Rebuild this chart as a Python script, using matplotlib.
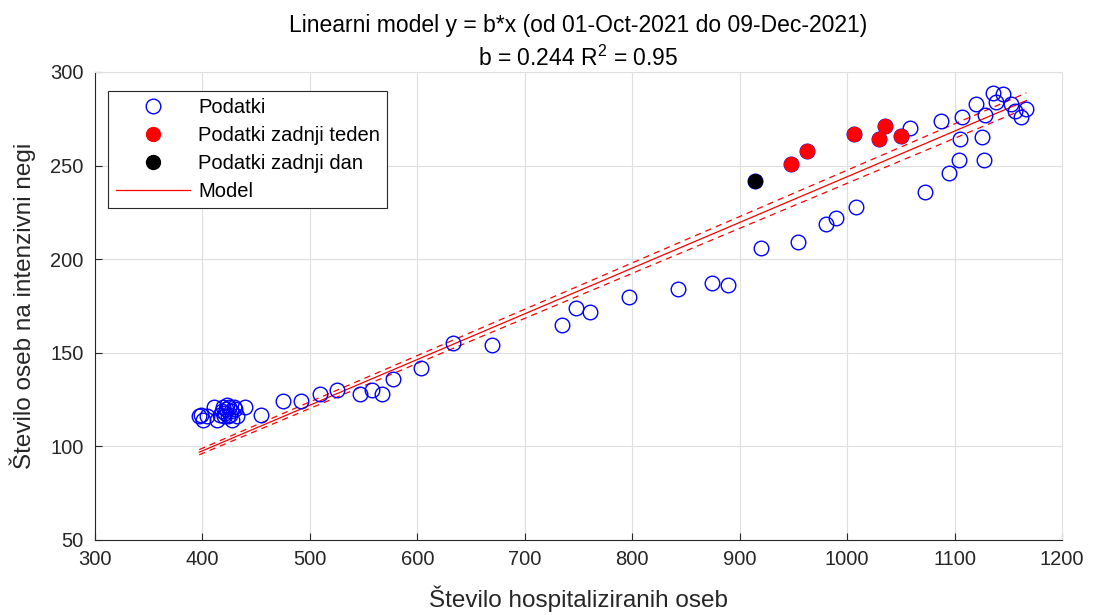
import numpy as np
import matplotlib
matplotlib.use("Agg")
import matplotlib.pyplot as plt

plt.rcParams['font.family'] = ['Liberation Sans', 'DejaVu Sans']
plt.rcParams['mathtext.fontset'] = 'custom'
plt.rcParams['mathtext.rm'] = 'Liberation Sans'
plt.rcParams['mathtext.it'] = 'Liberation Sans'

# Hospitalised vs. intensive-care patients, 01-Oct-2021 .. 09-Dec-2021
hosp_all = [397, 399, 401, 404, 411, 414, 416, 418, 419, 420, 421, 422, 423, 424,
            425, 426, 427, 428, 429, 430, 432, 440, 455, 475, 492, 509, 525, 547,
            558, 567, 577, 603, 633, 670, 735, 748, 761, 797, 843, 874, 889, 920,
            954, 980, 990, 1008, 1073, 1095, 1104, 1127, 1105, 1126, 1059, 1087,
            1107, 1128, 1120, 1136, 1145, 1139, 1153, 1167, 1156, 1162]
icu_all = [116, 117, 114, 116, 121, 114, 117, 119, 121, 116, 118, 120, 122, 116,
           121, 117, 119, 114, 121, 120, 116, 121, 117, 124, 124, 128, 130, 128,
           130, 128, 136, 142, 155, 154, 165, 174, 172, 180, 184, 187, 186, 206,
           209, 219, 222, 228, 236, 246, 253, 253, 264, 265, 270, 274,
           276, 277, 283, 289, 288, 284, 283, 280, 279, 276]

hosp_week = [948, 963, 1006, 1030, 1035, 1050]
icu_week = [251, 258, 267, 264, 271, 266]

hosp_day = [914]
icu_day = [242]

b = 0.244
b_lo = 0.2405
b_hi = 0.2475
r2 = 0.95

title_lines = ["Linearni model y = b*x (od 01-Oct-2021 do 09-Dec-2021)",
               r"b = 0.244 R$^2$ = 0.95"]

fig = plt.figure(figsize=(10.94, 6.15), dpi=100)
ax = fig.add_axes([0.0868, 0.122, 0.8839, 0.761])

dark = '#262626'
grid_c = '#dfdfdf'

all_x = hosp_all + hosp_week + hosp_day
all_y = icu_all + icu_week + icu_day

ax.plot(all_x, all_y, 'o', ls='none', mfc='none', mec='#0000ff', mew=1.0,
        ms=10.5, label='Podatki', zorder=3)
ax.plot(hosp_week, icu_week, 'o', ls='none', mfc='#ff0000', mec='#ff0000',
        ms=10, label='Podatki zadnji teden', zorder=4)
ax.plot(hosp_day, icu_day, 'o', ls='none', mfc='black', mec='black',
        ms=10, label='Podatki zadnji dan', zorder=4)

xm = np.linspace(min(all_x), max(all_x), 50)
ax.plot(xm, b * xm, '-', color='#ff0000', lw=0.9, label='Model', zorder=2)
ax.plot(xm, b_lo * xm, '--', color='#ff0000', lw=0.9, dashes=(5, 4), zorder=2)
ax.plot(xm, b_hi * xm, '--', color='#ff0000', lw=0.9, dashes=(5, 4), zorder=2)

ax.set_xlim(300, 1200)
ax.set_ylim(50, 300)
ax.set_xticks(np.arange(300, 1201, 100))
ax.set_yticks(np.arange(50, 301, 50))
ax.grid(True, color=grid_c, lw=0.8)
ax.set_axisbelow(True)

for s in ['left', 'bottom']:
    ax.spines[s].set_color(dark)
    ax.spines[s].set_linewidth(0.8)
for s in ['top', 'right']:
    ax.spines[s].set_color(grid_c)
    ax.spines[s].set_linewidth(0.8)

ax.tick_params(direction='in', length=5, width=0.8, colors=dark,
               labelsize=14.5, top=False, right=False)
ax.tick_params(axis='x', pad=7)
ax.tick_params(axis='y', pad=8)

ax.set_xlabel('Število hospitaliziranih oseb', fontsize=17.5, color=dark, labelpad=12)
ax.set_ylabel('Število oseb na intenzivni negi', fontsize=17.5, color=dark, labelpad=10)
ax.set_title(title_lines[0] + "\n" + title_lines[1], fontsize=16.5, color='black',
             pad=4, linespacing=1.48)

leg = ax.legend(loc='upper left', bbox_to_anchor=(0.014, 0.96), fontsize=14.5,
                frameon=True, fancybox=False, edgecolor=dark, framealpha=1,
                handlelength=3.7, handletextpad=0.4, borderpad=0.35,
                labelspacing=0.45, borderaxespad=0)
leg.get_frame().set_linewidth(0.8)

fig.savefig('out.png', dpi=100)
